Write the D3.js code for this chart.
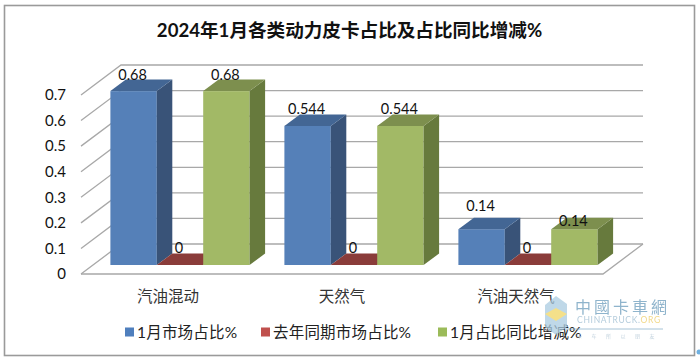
<!DOCTYPE html>
<html lang="zh">
<head>
    <meta charset="utf-8" />
    <title>2024年1月各类动力皮卡占比及占比同比增减%</title>
    <style>
        html, body { margin: 0; padding: 0; background: #fff; }
        svg { display: block; filter: blur(0.35px); }
        text { font-family: Lato, "Noto Sans CJK SC", sans-serif; fill: #111; }
    </style>
</head>
<body>
    <div id="graph"></div>
    <script src="https://d3js.org/d3.v7.min.js"></script>
    <script>
        var title = "2024年1月各类动力皮卡占比及占比同比增减%";
        var categories = ["汽油混动", "天然气", "汽油天然气"];
        var seriesNames = ["1月市场占比%", "去年同期市场占比%", "1月占比同比增减%"];
        var marketShare = [0.68, 0.544, 0.14];
        var lastYearShare = [0, 0, 0];
        var shareChange = [0.68, 0.544, 0.14];
        var yTicks = [0, 0.1, 0.2, 0.3, 0.4, 0.5, 0.6, 0.7];

        var seriesValues = [marketShare, lastYearShare, shareChange];
        var colors = [
            { front: "#5580b8", side: "#395378", top: "#436694", legend: "#4f7fbd" },
            { front: "#b85450", side: "#7d3432", top: "#8a3c3a", legend: "#c0504d" },
            { front: "#a2b966", side: "#677a3d", top: "#7d8f4e", legend: "#9bbb59" }
        ];

        var width = 700, height = 364;
        // floor corner of the 3d box, and how far the back wall is shifted from the front
        var floorX = 81, floorY = 274, floorW = 522, plotH = 179;
        var wallDx = 40, wallDy = -30;
        // bars stand inside the floor, not on its edge
        var barDx = 12, barDy = -9, depthDx = 15.5, depthDy = -11.5;

        var x = d3.scaleBand().domain(d3.range(categories.length))
            .range([floorX, floorX + floorW]).paddingInner(0.2).paddingOuter(0.1);
        var xInner = d3.scaleBand().domain(d3.range(seriesNames.length))
            .range([0, x.bandwidth()]);
        var y = d3.scaleLinear().domain([0, 0.7]).range([floorY, floorY - plotH]);

        var svg = d3.select("#graph").append("svg")
            .attr("width", width)
            .attr("height", height);

        svg.append("rect")
            .attr("x", 4.5).attr("y", 5.5)
            .attr("width", 690).attr("height", 350)
            .attr("fill", "#fff")
            .attr("stroke", "#9a9a9a")
            .attr("stroke-width", 1.6);

        svg.append("text")
            .attr("x", 349.5).attr("y", 37)
            .attr("text-anchor", "middle")
            .style("font-size", "18.6px")
            .style("font-weight", "bold")
            .text(title);

        // walls: grid on the back wall and down the left side
        var grid = svg.append("g").attr("fill", "none").attr("stroke", "#a8a8a8").attr("stroke-width", 1.3);
        yTicks.forEach(function (t) {
            grid.append("path").attr("d", d3.line()([
                [floorX, y(t)],
                [floorX + wallDx, y(t) + wallDy],
                [floorX + wallDx + floorW, y(t) + wallDy]
            ]));
        });
        grid.append("path").attr("d", d3.line()([
            [floorX, floorY],
            [floorX + floorW, floorY],
            [floorX + floorW + wallDx, floorY + wallDy]
        ]));

        svg.selectAll(".tick-label")
            .data(yTicks)
            .enter()
            .append("text")
            .attr("class", "tick-label")
            .attr("x", 66)
            .attr("y", function (d) { return y(d); })
            .attr("dy", ".35em")
            .attr("text-anchor", "end")
            .style("font-size", "15px")
            .text(function (d) { return d; });

        function drawBar(c, s) {
            var v = seriesValues[s][c];
            var x0 = x(c) + xInner(s) + barDx;
            var x1 = x0 + xInner.bandwidth();
            var yb = floorY + barDy;
            var yt = y(v) + barDy;
            var g = svg.append("g");
            if (v > 0) {
                g.append("rect")
                    .attr("x", x0).attr("y", yt)
                    .attr("width", x1 - x0).attr("height", yb - yt)
                    .attr("fill", colors[s].front);
            }
            g.append("polygon")
                .attr("points", [[x1, yt], [x1 + depthDx, yt + depthDy], [x1 + depthDx, yb + depthDy], [x1, yb]].join(" "))
                .attr("fill", colors[s].side);
            g.append("polygon")
                .attr("points", [[x0, yt], [x0 + depthDx, yt + depthDy], [x1 + depthDx, yt + depthDy], [x1, yt]].join(" "))
                .attr("fill", colors[s].top);
        }

        categories.forEach(function (cat, c) {
            seriesNames.forEach(function (name, s) { drawBar(c, s); });
        });

        // label lift above the bar front; the short third group was moved by hand in the original
        function labelLift(c, s) {
            if (seriesValues[s][c] === 0) return 12;
            if (c === 2) return s === 0 ? 18 : 3;
            return 11.5;
        }
        categories.forEach(function (cat, c) {
            seriesNames.forEach(function (name, s) {
                var v = seriesValues[s][c];
                svg.append("text")
                    .attr("x", x(c) + xInner(s) + barDx + xInner.bandwidth() / 2 - 1)
                    .attr("y", y(v) + barDy - labelLift(c, s))
                    .attr("text-anchor", "middle")
                    .style("font-size", "14.5px")
                    .text(v);
            });
        });

        svg.selectAll(".cat-label")
            .data(categories)
            .enter()
            .append("text")
            .attr("class", "cat-label")
            .attr("x", function (d, i) { return x(i) + x.bandwidth() / 2; })
            .attr("y", 302)
            .attr("text-anchor", "middle")
            .style("font-size", "15.5px")
            .style("fill", "#333")
            .text(function (d) { return d; });

        // legend
        var legendX = [125, 261, 438];
        seriesNames.forEach(function (name, s) {
            svg.append("rect")
                .attr("x", legendX[s]).attr("y", 327.5)
                .attr("width", 9).attr("height", 9)
                .attr("fill", colors[s].legend);
            svg.append("text")
                .attr("x", legendX[s] + 12).attr("y", 337.5)
                .style("font-size", "15.5px")
                .style("letter-spacing", "0.2px")
                .style("fill", "#222")
                .text(name);
        });

        // site watermark, sits over the corner of the chart
        var mark = svg.append("g");
        mark.append("polygon").attr("points", "545,305 556,296 567,304 567,327 556,335 545,327").attr("fill", "#a9cbe0").attr("opacity", 0.75);
        mark.append("polygon").attr("points", "545,314 556,308 567,314 556,321").attr("fill", "#f4e08a");
        mark.append("text").attr("x", 575).attr("y", 313)
            .style("font-size", "16px").style("letter-spacing", "3px")
            .style("fill", "#8fb4cc").text("中國卡車網");
        var url = mark.append("text").attr("x", 577).attr("y", 323)
            .style("font-size", "8.5px").style("letter-spacing", "0.7px")
            .style("fill", "#b4ccdc");
        url.append("tspan").text("CHINATRUCK.");
        url.append("tspan").style("fill", "#f2d98a").text("ORG");
        mark.append("line").attr("x1", 566).attr("x2", 663).attr("y1", 329).attr("y2", 329)
            .attr("stroke", "#8fb4cc").attr("stroke-width", 0.8);
        mark.append("text").attr("x", 577).attr("y", 338)
            .style("font-size", "5px").style("letter-spacing", "9.5px")
            .style("fill", "#c3d3de").text("卡车所以朋友");
        svg.append("circle").attr("cx", 699).attr("cy", 352).attr("r", 2.5).attr("fill", "#6fb0e0");
    </script>
</body>
</html>
